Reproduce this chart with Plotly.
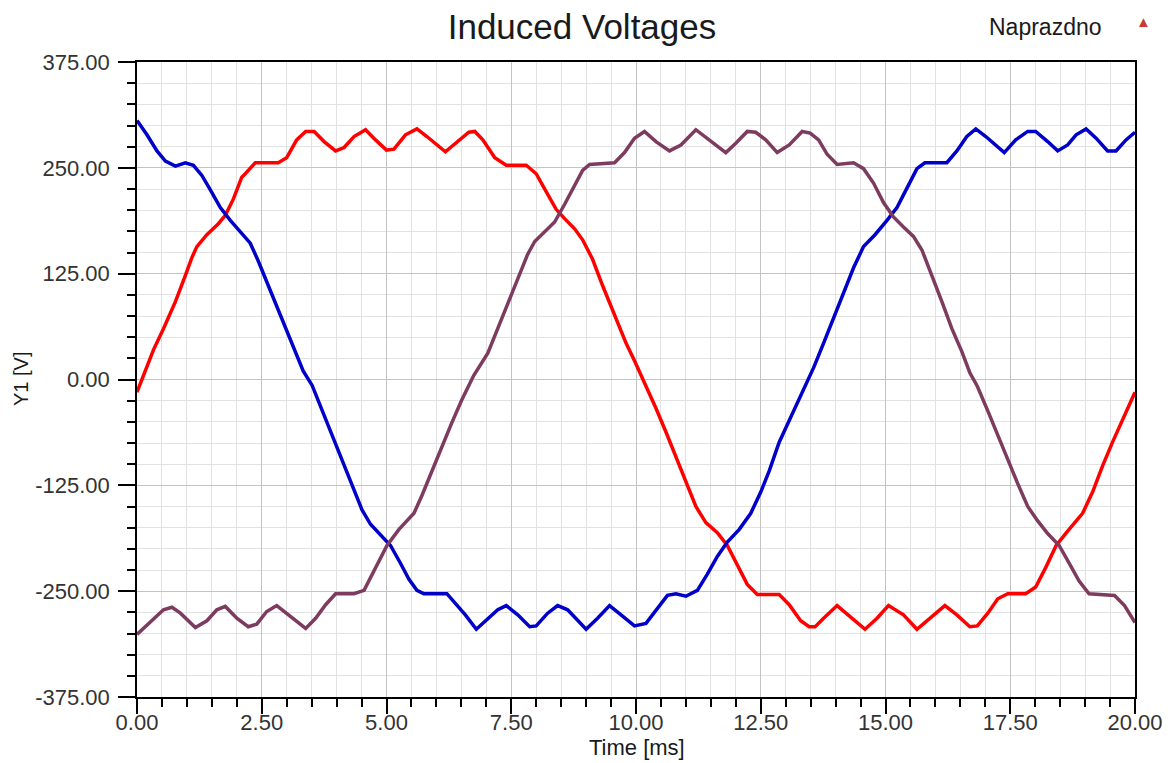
import plotly.graph_objects as go

# ---- data (time in ms, voltage in V) ----
red_t = [0, 0.33, 0.53, 0.77, 0.97, 1.1, 1.2, 1.4, 1.63, 1.77,
         1.93, 2.1, 2.17, 2.37, 2.83, 3.0, 3.2, 3.38, 3.55, 3.75,
         3.98, 4.15, 4.35, 4.58, 4.78, 5.0, 5.15, 5.38, 5.61, 5.81,
         6.18, 6.38, 6.65, 6.77, 6.93, 7.17, 7.4, 7.8, 8.0, 8.2,
         8.4, 8.57, 8.77, 8.93, 9.13, 9.33, 9.57, 9.8, 9.97, 10.2,
         10.4, 10.6, 10.8, 11.0, 11.2, 11.4, 11.63, 11.83, 12.03, 12.23,
         12.43, 12.87, 13.07, 13.3, 13.47, 13.59, 13.76, 14.03, 14.29, 14.59,
         14.83, 15.06, 15.36, 15.63, 15.93, 16.19, 16.43, 16.69, 16.84, 17.05,
         17.25, 17.45, 17.81, 18.01, 18.22, 18.42, 18.65, 18.95, 19.15, 19.35,
         19.55, 19.75, 20.0]
red_v = [-15, 35, 60, 92, 123, 144, 157, 171, 184, 194,
         213, 239, 243, 256, 256, 262, 283, 293, 293, 281,
         270, 274, 287, 295, 283, 271, 272, 289, 296, 287,
         269, 279, 292, 293, 283, 262, 253, 253, 243, 222,
         201, 190, 178, 165, 142, 111, 77, 43, 22, -7,
         -34, -62, -91, -120, -150, -169, -181, -196, -219, -242,
         -254, -254, -266, -285, -292, -292, -282, -267, -280, -295,
         -282, -267, -278, -295, -280, -267, -278, -292, -291, -276,
         -259, -253, -253, -245, -221, -196, -179, -158, -133, -102,
         -74, -47, -15]

blue_t = [0, 0.2, 0.4, 0.57, 0.77, 0.97, 1.13, 1.3, 1.47, 1.67,
          1.87, 2.13, 2.27, 2.43, 2.63, 2.83, 3.03, 3.33, 3.51, 3.71,
          3.91, 4.11, 4.31, 4.51, 4.68, 4.88, 5.08, 5.28, 5.45, 5.61,
          5.75, 6.21, 6.38, 6.58, 6.8, 7.03, 7.23, 7.4, 7.63, 7.87,
          8.0, 8.23, 8.43, 8.63, 9.0, 9.23, 9.47, 9.7, 9.97, 10.2,
          10.4, 10.63, 10.8, 11.0, 11.23, 11.43, 11.63, 11.83, 12.07, 12.3,
          12.5, 12.67, 12.87, 13.07, 13.3, 13.56, 13.76, 13.96, 14.16, 14.36,
          14.56, 14.79, 15.03, 15.23, 15.43, 15.63, 15.79, 16.23, 16.43, 16.63,
          16.81, 17.01, 17.38, 17.61, 17.85, 18.01, 18.25, 18.45, 18.65, 18.82,
          19.02, 19.22, 19.45, 19.62, 19.82, 20.0]
blue_v = [306, 289, 270, 258, 252, 256, 253, 241, 224, 203,
          188, 171, 161, 140, 111, 81, 52, 10, -7, -36,
          -66, -95, -125, -154, -171, -184, -196, -217, -236, -249,
          -253, -253, -264, -278, -295, -282, -272, -267, -278, -292,
          -291, -276, -267, -272, -295, -282, -267, -278, -291, -288,
          -272, -255, -253, -256, -249, -230, -209, -192, -177, -158,
          -133, -108, -74, -49, -20, 14, 43, 73, 102, 132,
          157, 171, 188, 203, 226, 249, 256, 256, 270, 287,
          296, 287, 268, 283, 293, 293, 281, 270, 277, 289,
          296, 285, 270, 270, 283, 292]

purple_t = [0, 0.27, 0.53, 0.7, 0.87, 1.17, 1.4, 1.6, 1.77, 2.0,
            2.23, 2.4, 2.6, 2.8, 3.07, 3.27, 3.38, 3.58, 3.78, 3.98,
            4.35, 4.55, 4.75, 5.01, 5.25, 5.55, 5.71, 5.91, 6.11, 6.31,
            6.51, 6.75, 7.03, 7.23, 7.43, 7.63, 7.83, 7.97, 8.17, 8.37,
            8.57, 8.77, 8.93, 9.07, 9.57, 9.77, 9.97, 10.17, 10.4, 10.67,
            10.9, 11.2, 11.43, 11.8, 12.0, 12.23, 12.4, 12.6, 12.83, 13.07,
            13.33, 13.49, 13.66, 13.83, 14.03, 14.36, 14.56, 14.76, 14.96, 15.16,
            15.36, 15.56, 15.73, 15.93, 16.13, 16.33, 16.53, 16.69, 16.84, 17.05,
            17.25, 17.45, 17.65, 17.85, 18.05, 18.25, 18.48, 18.68, 18.88, 19.08,
            19.59, 19.79, 20.0]
purple_v = [-301, -286, -272, -269, -276, -293, -285, -272, -268, -282,
            -292, -289, -274, -267, -280, -290, -294, -282, -266, -253,
            -253, -249, -226, -196, -177, -158, -137, -108, -78, -51,
            -24, 5, 31, 60, 90, 119, 148, 163, 174, 186,
            207, 230, 247, 254, 256, 268, 285, 293, 281, 270,
            277, 295, 285, 268, 279, 293, 292, 283, 268, 277,
            293, 291, 283, 266, 254, 256, 249, 232, 209, 192,
            180, 169, 153, 123, 92, 60, 33, 8, -8, -37,
            -66, -95, -123, -150, -167, -182, -196, -217, -238, -253,
            -255, -267, -287]

x_ticks = [0, 2.5, 5, 7.5, 10, 12.5, 15, 17.5, 20]
x_labels = ["0.00", "2.50", "5.00", "7.50", "10.00", "12.50", "15.00", "17.50", "20.00"]
y_ticks = [-375, -250, -125, 0, 125, 250, 375]
y_labels = ["-375.00", "-250.00", "-125.00", "0.00", "125.00", "250.00", "375.00"]

FONT = "Liberation Sans, Arial, sans-serif"
TXT = "#333333"

fig = go.Figure()
fig.add_trace(go.Scatter(x=red_t, y=red_v, mode="lines",
                         line=dict(color="#ff0000", width=3.5), showlegend=False))
fig.add_trace(go.Scatter(x=blue_t, y=blue_v, mode="lines",
                         line=dict(color="#0000c8", width=3.5), showlegend=False))
fig.add_trace(go.Scatter(x=purple_t, y=purple_v, mode="lines",
                         line=dict(color="#7d3c5f", width=3.5), showlegend=False))

# page body has an 8px margin; size the figure so the plot box lands at x 137..1135, y 62..697
fig.update_layout(
    width=1165, height=755,
    margin=dict(l=129, r=38, t=54, b=66, autoexpand=False),
    paper_bgcolor="white", plot_bgcolor="white",
    font=dict(family=FONT, size=22, color=TXT),
    title=dict(text="Induced Voltages", x=(582 - 8) / 1165, xref="container", xanchor="center",
               y=1 - 19 / 755, yref="container", yanchor="middle",
               font=dict(family=FONT, size=35, color="#1a1a1a")),
    annotations=[
        dict(text="Naprazdno", xref="paper", yref="paper", x=(1045 - 137) / 998, y=(697 - 27) / 635,
             xanchor="center", yanchor="middle", showarrow=False,
             font=dict(family=FONT, size=23, color="#1a1a1a")),
        dict(text="▲", xref="paper", yref="paper", x=(1143 - 137) / 998, y=(697 - 21) / 635,
             xanchor="center", yanchor="middle", showarrow=False,
             font=dict(family=FONT, size=15, color="#c83a3a")),
        dict(text="Time [ms]", xref="paper", yref="paper", x=(637 - 137) / 998, y=(697 - 748) / 635,
             xanchor="center", yanchor="middle", showarrow=False,
             font=dict(family=FONT, size=22, color="#1a1a1a")),
        dict(text="Y1 [V]", xref="paper", yref="paper", x=(21 - 137) / 998, y=(697 - 379) / 635,
             xanchor="center", yanchor="middle", showarrow=False, textangle=-90,
             font=dict(family=FONT, size=20, color="#1a1a1a")),
    ],
)

fig.update_xaxes(
    range=[0, 20], tickvals=x_ticks, ticktext=x_labels, automargin=False,
    ticks="outside", ticklen=15, tickwidth=1.5, tickcolor="black",
    ticklabelstandoff=-10,
    showline=True, linecolor="black", linewidth=1.5, mirror=True,
    showgrid=True, gridcolor="#c4c4c4", gridwidth=1, zeroline=False,
    minor=dict(dtick=0.5, ticks="outside", ticklen=8, tickwidth=1.5, tickcolor="black",
               showgrid=True, gridcolor="#e2e2e2", gridwidth=1),
    tickfont=dict(family=FONT, size=22, color=TXT),
)
fig.update_yaxes(
    range=[-375, 375], tickvals=y_ticks, ticktext=y_labels, automargin=False,
    ticks="outside", ticklen=17, tickwidth=1.5, tickcolor="black",
    ticklabelstandoff=4,
    showline=True, linecolor="black", linewidth=1.5, mirror=True,
    showgrid=True, gridcolor="#c4c4c4", gridwidth=1, zeroline=False,
    minor=dict(dtick=25, ticks="outside", ticklen=8, tickwidth=1.5, tickcolor="black",
               showgrid=True, gridcolor="#e2e2e2", gridwidth=1),
    tickfont=dict(family=FONT, size=22, color=TXT),
)

fig.write_html("out.html")
